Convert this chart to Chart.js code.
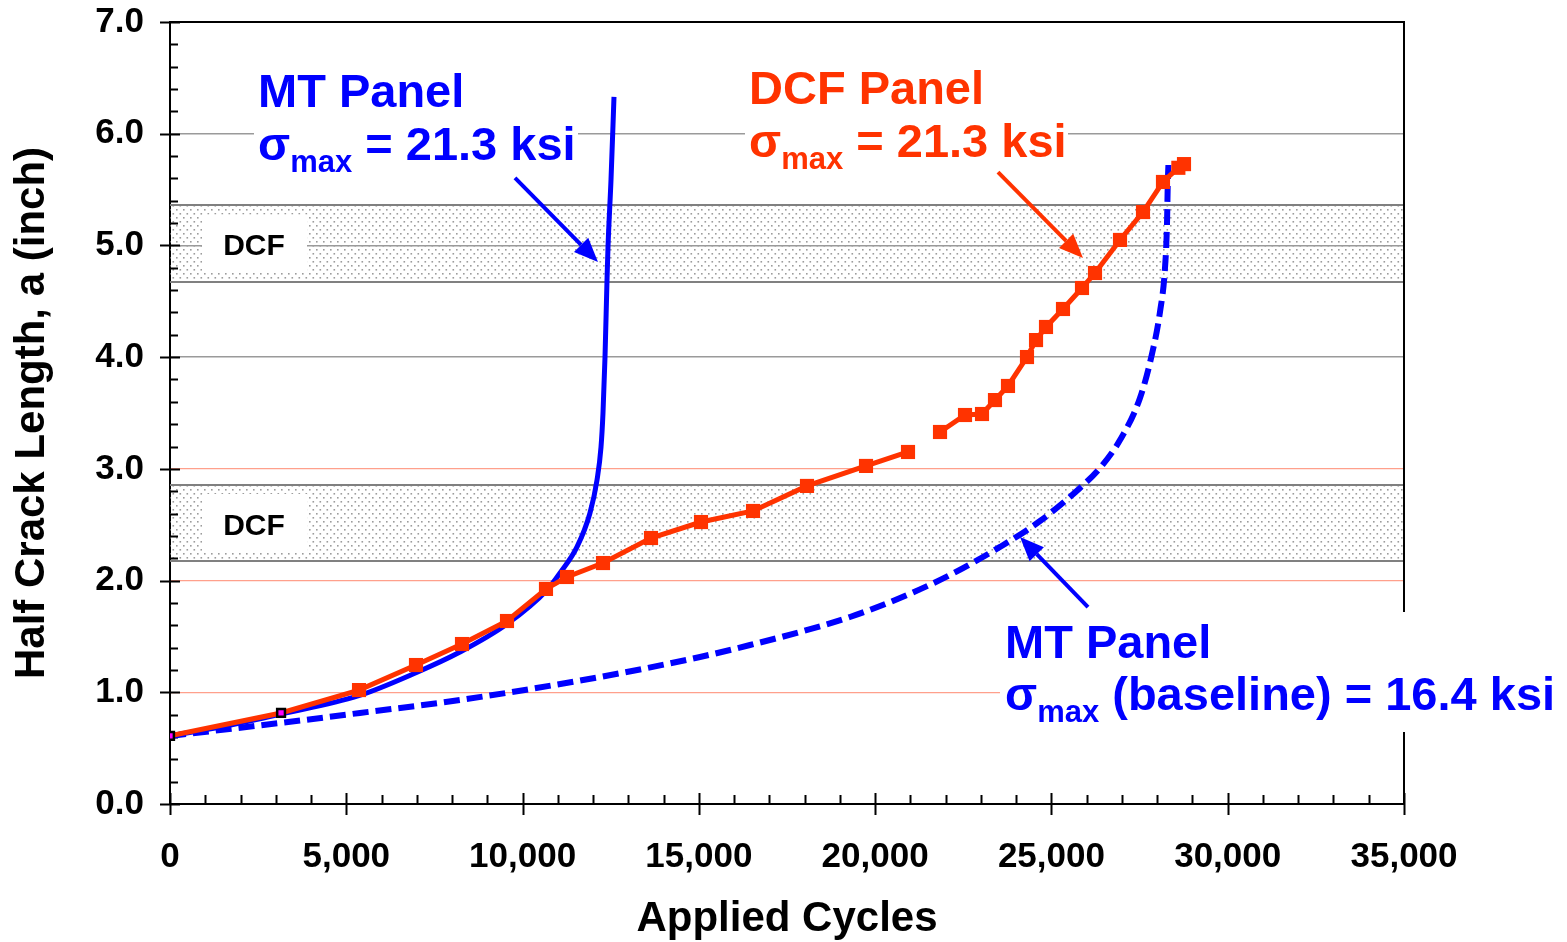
<!DOCTYPE html>
<html><head><meta charset="utf-8">
<script src="https://cdn.jsdelivr.net/npm/chart.js@4.4.1/dist/chart.umd.min.js"></script>
<style>html,body{margin:0;padding:0;background:#fff;}</style>
</head><body>
<canvas id="c" width="1567" height="942"></canvas>
<script>
// ---- data ----
const dcfCycles = [0, 3150, 5361, 6977, 8282, 9558, 10664, 11260, 12281, 13643, 15061, 16536, 18067, 19741, 20932, 21400, 21840, 22549, 23031, 23399, 23768, 24307, 24563, 24846, 25328, 25867, 26236, 26945, 27597, 28164, 28600, 28760];
const dcfCrack  = [0.61, 0.815, 1.02, 1.244, 1.432, 1.638, 1.925, 2.032, 2.157, 2.381, 2.524, 2.623, 2.847, 3.026, 3.151, null, 3.33, 3.482, 3.491, 3.616, 3.742, 4.001, 4.153, 4.270, 4.431, 4.619, 4.753, 5.049, 5.299, 5.568, 5.695, 5.728];
const mtHighCycles = [0, 1418, 3148, 5332, 6977, 8225, 9558, 10693, 11062, 11544, 11912, 12111, 12225, 12281, 12338, 12395, 12423, 12508, 12593];
const mtHighCrack  = [0.609, 0.689, 0.806, 0.967, 1.175, 1.36, 1.611, 1.916, 2.068, 2.301, 2.605, 2.900, 3.196, 3.500, 4.001, 4.691, 4.986, 5.586, 6.329];
const mtBaseCycles = [0, 3120, 5389, 8225, 12196, 15032, 16450, 17869, 19287, 20705, 22123, 23541, 24676, 25810, 26377, 26945, 27512, 27852, 28079, 28221, 28278, 28300, 28318];
const mtBaseCrack  = [0.609, 0.725, 0.815, 0.931, 1.137, 1.316, 1.423, 1.540, 1.674, 1.844, 2.050, 2.301, 2.533, 2.829, 3.008, 3.258, 3.634, 4.028, 4.404, 4.798, 5.192, 5.559, 5.720];
const startCycles = [0, 3150];
const startCrack  = [0.61, 0.815];
const dcfBandLow  = [2.175, 4.673];
const dcfBandHigh = [2.856, 5.362];
const xTickStep = 5000, xMinorStep = 1000;
const yTickStep = 1, yMinorStep = 0.2;

const pts = (xs, ys) => xs.map((x, i) => ({x: x, y: ys[i]}));

const RED = '#ff3300', BLUE = '#0000ff';
const FONT = '"Liberation Sans", Arial, sans-serif';

// stipple pattern
const pc = document.createElement('canvas'); pc.width = 7; pc.height = 8;
const pctx = pc.getContext('2d');
pctx.fillStyle = '#9c9c9c';
pctx.fillRect(1, 1, 1.6, 1.6);
pctx.fillRect(4.5, 5, 1.6, 1.6);

function arrow(ctx, x1, y1, x2, y2, color, w) {
  const ang = Math.atan2(y2 - y1, x2 - x1);
  const hl = 24, hw = 10;
  const bx = x2 - hl * Math.cos(ang), by = y2 - hl * Math.sin(ang);
  ctx.strokeStyle = color; ctx.fillStyle = color; ctx.lineWidth = w;
  ctx.beginPath(); ctx.moveTo(x1, y1); ctx.lineTo(bx, by); ctx.stroke();
  ctx.beginPath();
  ctx.moveTo(x2, y2);
  ctx.lineTo(bx + hw * Math.sin(ang), by - hw * Math.cos(ang));
  ctx.lineTo(bx - hw * Math.sin(ang), by + hw * Math.cos(ang));
  ctx.closePath(); ctx.fill();
}

function sigmaLine(ctx, x, base, rest, color) {
  ctx.fillStyle = color; ctx.textAlign = 'left'; ctx.textBaseline = 'alphabetic';
  ctx.font = 'bold 47px ' + FONT;
  ctx.fillText('σ', x, base);
  const w1 = ctx.measureText('σ').width;
  ctx.font = 'bold 31px ' + FONT;
  ctx.fillText('max', x + w1, base + 12);
  const w2 = ctx.measureText('max').width;
  ctx.font = 'bold 47px ' + FONT;
  ctx.fillText(rest, x + w1 + w2, base);
}

const overlay = {
  id: 'overlay',
  beforeDatasetsDraw(chart) {
    const {ctx, chartArea: a, scales: {x, y}} = chart;
    ctx.save();
    // DCF bands
    const pat = ctx.createPattern(pc, 'repeat');
    dcfBandLow.forEach((lo, i) => {
      const yt = y.getPixelForValue(dcfBandHigh[i]), yb = y.getPixelForValue(lo);
      ctx.fillStyle = pat;
      ctx.fillRect(a.left, yt, a.right - a.left, yb - yt);
      ctx.strokeStyle = '#808080'; ctx.lineWidth = 2;
      ctx.beginPath(); ctx.moveTo(a.left, yt); ctx.lineTo(a.right, yt);
      ctx.moveTo(a.left, yb); ctx.lineTo(a.right, yb); ctx.stroke();
      const yc = (yt + yb) / 2;
      ctx.fillStyle = '#fff';
      ctx.fillRect(a.left + 32, yc - 29, 105, 57);
      ctx.fillStyle = '#000'; ctx.font = 'bold 30px ' + FONT;
      ctx.textAlign = 'center'; ctx.textBaseline = 'alphabetic';
      ctx.fillText('DCF', a.left + 84, yc + 12);
    });
    // frame top/right
    ctx.strokeStyle = '#000'; ctx.lineWidth = 2;
    ctx.beginPath(); ctx.moveTo(a.left, a.top); ctx.lineTo(a.right, a.top); ctx.lineTo(a.right, a.bottom); ctx.stroke();
    // minor / major ticks
    ctx.strokeStyle = '#000'; ctx.lineWidth = 2;
    ctx.beginPath();
    for (let v = 0; v <= 7.0001; v += yMinorStep) {
      const py = Math.round(y.getPixelForValue(v)) + 0.5;
      const major = Math.abs(v - Math.round(v)) < 1e-6;
      ctx.moveTo(major ? a.left - 10 : a.left, py); ctx.lineTo(a.left + (major ? 10 : 8), py);
    }
    for (let v = 0; v <= 35000; v += xMinorStep) {
      const px = Math.round(x.getPixelForValue(v)) + 0.5;
      const major = v % xTickStep === 0;
      ctx.moveTo(px, a.bottom - (major ? 11 : 9)); ctx.lineTo(px, a.bottom + (major ? 11 : 0));
    }
    ctx.stroke();
    // annotation boxes
    ctx.fillStyle = '#fff';
    ctx.fillRect(254, 60, 324, 118);
    ctx.fillRect(745, 60, 323, 118);
    ctx.fillRect(1000, 612, 567, 120);
    // texts
    ctx.textAlign = 'left'; ctx.textBaseline = 'alphabetic';
    ctx.font = 'bold 47px ' + FONT;
    ctx.fillStyle = BLUE; ctx.fillText('MT Panel', 258, 107);
    sigmaLine(ctx, 258, 160, ' = 21.3 ksi', BLUE);
    ctx.font = 'bold 47px ' + FONT;
    ctx.fillStyle = RED; ctx.fillText('DCF Panel', 749, 104);
    sigmaLine(ctx, 749, 157, ' = 21.3 ksi', RED);
    ctx.font = 'bold 47px ' + FONT;
    ctx.fillStyle = BLUE; ctx.fillText('MT Panel', 1005, 658);
    sigmaLine(ctx, 1005, 710, ' (baseline) = 16.4 ksi', BLUE);
    // arrows (data-anchored)
    arrow(ctx, x.getPixelForValue(9785), y.getPixelForValue(5.604), x.getPixelForValue(12139), y.getPixelForValue(4.852), BLUE, 4);
    arrow(ctx, x.getPixelForValue(23484), y.getPixelForValue(5.657), x.getPixelForValue(25895), y.getPixelForValue(4.888), RED, 4);
    arrow(ctx, x.getPixelForValue(26037), y.getPixelForValue(1.763), x.getPixelForValue(24109), y.getPixelForValue(2.390), BLUE, 4);
    ctx.restore();
  }
};

new Chart(document.getElementById('c'), {
  type: 'line',
  data: {
    datasets: [
      { label: 'start', data: pts(startCycles, startCrack), showLine: false, pointStyle: 'rect',
        pointRadius: 5.5, borderWidth: 2.5, pointBorderColor: '#000', pointBackgroundColor: '#ff00ff', order: 0 },
      { label: 'DCF Panel', data: pts(dcfCycles, dcfCrack), borderColor: RED, backgroundColor: RED, borderWidth: 5,
        pointStyle: 'rect', pointRadius: (c) => c.dataIndex < 2 ? 0 : 10, pointBorderWidth: 0,
        pointBackgroundColor: RED, tension: 0, spanGaps: false, order: 1 },
      { label: 'MT Panel 21.3', data: pts(mtHighCycles, mtHighCrack), borderColor: BLUE, borderWidth: 5,
        pointRadius: 0, cubicInterpolationMode: 'monotone', order: 2 },
      { label: 'MT Panel 16.4', data: pts(mtBaseCycles, mtBaseCrack), borderColor: BLUE, borderWidth: 6,
        borderDash: [16, 7], pointRadius: 0, cubicInterpolationMode: 'monotone', order: 3 }
    ]
  },
  options: {
    responsive: false, animation: false, devicePixelRatio: 1,
    layout: { padding: { left: 0, top: 22, right: 163, bottom: 0 } },
    plugins: { legend: { display: false }, tooltip: { enabled: false } },
    scales: {
      x: {
        type: 'linear', min: 0, max: 35000,
        afterFit(s) { s.height = 138; s.paddingLeft = 0; s.paddingRight = 0; },
        grid: { display: false },
        border: { display: true, color: '#000', width: 2 },
        ticks: { stepSize: xTickStep, autoSkip: false, maxRotation: 0, padding: 24, color: '#000',
          font: { family: FONT, size: 35, weight: 'bold' },
          callback: (v) => v.toLocaleString('en-US') },
        title: { display: true, text: 'Applied Cycles', color: '#000', padding: { top: 0, bottom: -3 },
          font: { family: FONT, size: 42, weight: 'bold' } }
      },
      y: {
        type: 'linear', min: 0, max: 7,
        afterFit(s) { s.width = 170; s.paddingTop = 0; s.paddingBottom = 0; },
        grid: { drawTicks: false,
          color: (c) => { const v = c.tick.value; if (v <= 0 || v >= 7) return 'rgba(0,0,0,0)'; return v <= 3 ? '#ffa08c' : '#9a9a9a'; },
          lineWidth: (c) => c.tick.value <= 3 ? 1.2 : 1.5 },
        border: { display: true, color: '#000', width: 2 },
        ticks: { stepSize: yTickStep, padding: 26, color: '#000',
          font: { family: FONT, size: 35, weight: 'bold' },
          callback: (v) => v.toFixed(1) },
        title: { display: true, text: 'Half Crack Length, a (inch)', color: '#000', padding: { top: 7, bottom: 0 },
          font: { family: FONT, size: 42, weight: 'bold' } }
      }
    }
  },
  plugins: [overlay]
});
</script>
</body></html>
